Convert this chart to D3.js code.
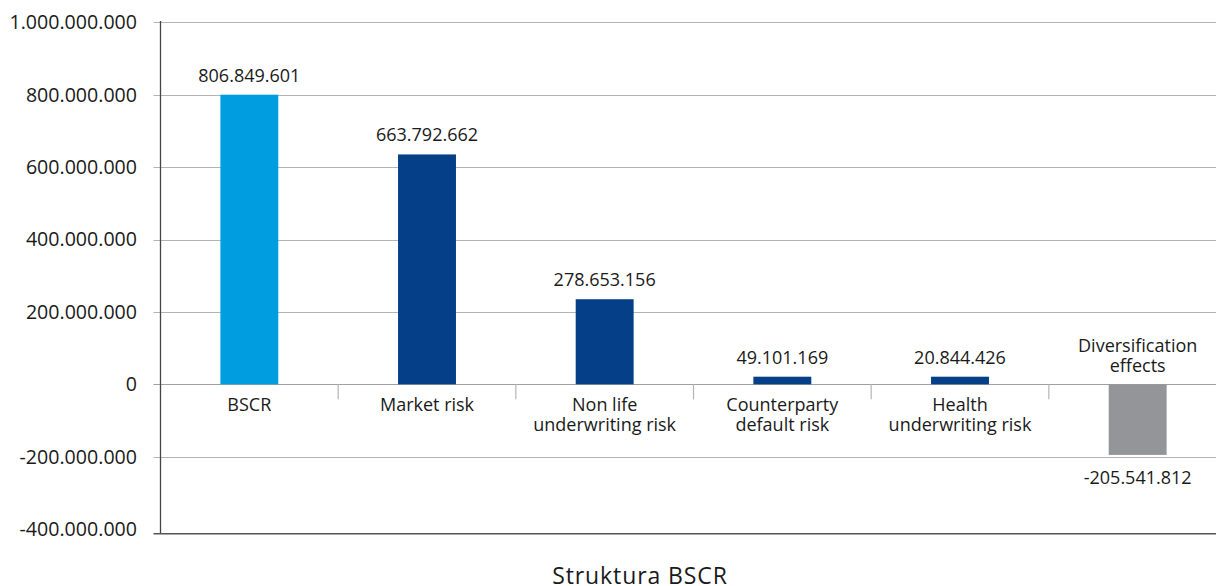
<!DOCTYPE html>
<html>
<head>
<meta charset="utf-8">
<script src="https://cdn.jsdelivr.net/npm/d3@7"></script>
<style>
  html, body { margin: 0; padding: 0; background: #fff; }
  svg { display: block; font-family: "Open Sans", "Noto Sans", sans-serif; }
</style>
</head>
<body>
<svg id="chart" width="1216" height="586"></svg>
<script>
// ---- data ----
const categories = [
  ["BSCR"],
  ["Market risk"],
  ["Non life", "underwriting risk"],
  ["Counterparty", "default risk"],
  ["Health", "underwriting risk"],
  ["Diversification", "effects"]
];
// bar heights as drawn in the picture
const barValues = [800000000, 635000000, 235000000, 21000000, 21000000, -195000000];
// data labels as printed
const labelValues = [806849601, 663792662, 278653156, 49101169, 20844426, -205541812];
const yTicks = [-400000000, -200000000, 0, 200000000, 400000000, 600000000, 800000000, 1000000000];
const barColors = ["#009ee0", "#053f87", "#053f87", "#053f87", "#053f87", "#939598"];
const title = "Struktura BSCR";

const fmt = v => d3.format(",")(v).replace(/,/g, ".").replace("−", "-");

const svg = d3.select("#chart");
const left = 160.5, right = 1226.5;
const y = d3.scaleLinear().domain([-400000000, 1000000000]).range([529.1, 22.3]);
const x = d3.scaleBand().domain(d3.range(categories.length)).range([left, right]).paddingInner(0.674).paddingOuter(0.337);
const band = d3.scaleBand().domain(d3.range(categories.length)).range([left, right]);
const bottomY = 533.7;

// gridlines
svg.append("g").selectAll("line").data(yTicks.filter(t => t !== -400000000)).join("line")
  .attr("x1", 153.5).attr("x2", 1216)
  .attr("y1", d => Math.round(y(d)) + 0.5).attr("y2", d => Math.round(y(d)) + 0.5)
  .attr("stroke", d => d === 0 ? "#a0a0a0" : "#b4b4b4").attr("stroke-width", 1.2);

// y tick labels
svg.append("g").selectAll("text").data(yTicks).join("text")
  .attr("x", 137).attr("y", d => y(d))
  .attr("dy", "0.35em").attr("text-anchor", "end")
  .attr("font-size", 19.6).attr("fill", "#1a1a1a")
  .text(d => fmt(d));

// bars
svg.append("g").selectAll("rect").data(barValues).join("rect")
  .attr("x", (d, i) => x(i)).attr("width", x.bandwidth())
  .attr("y", d => y(Math.max(0, d)))
  .attr("height", d => Math.abs(y(d) - y(0)))
  .attr("fill", (d, i) => barColors[i]);

// category separators below zero
svg.append("g").selectAll("line").data(d3.range(1, categories.length)).join("line")
  .attr("x1", d => band(d)).attr("x2", d => band(d))
  .attr("y1", y(0)).attr("y2", y(0) + 15)
  .attr("stroke", "#b4b4b4").attr("stroke-width", 1.2);

// left axis line
svg.append("line").attr("x1", left).attr("x2", left).attr("y1", 21).attr("y2", bottomY)
  .attr("stroke", "#444").attr("stroke-width", 1.3);
// bottom frame line
svg.append("line").attr("x1", 153.5).attr("x2", 1216).attr("y1", bottomY).attr("y2", bottomY)
  .attr("stroke", "#555").attr("stroke-width", 1.6);

// category labels
const catG = svg.append("g").selectAll("text").data(categories).join("text")
  .attr("text-anchor", "middle").attr("font-size", 18).attr("fill", "#1a1a1a")
  .attr("transform", (d, i) => {
    const cx = x(i) + x.bandwidth() / 2;
    const yy = barValues[i] < 0 ? y(0) - 32 : y(0) + 26.5;
    return `translate(${cx},${yy})`;
  });
catG.selectAll("tspan").data(d => d).join("tspan")
  .attr("x", 0).attr("dy", (d, j) => j === 0 ? 0 : 20).text(d => d);

// data labels
svg.append("g").selectAll("text").data(labelValues).join("text")
  .attr("text-anchor", "middle").attr("font-size", 18).attr("fill", "#1a1a1a")
  .attr("x", (d, i) => x(i) + x.bandwidth() / 2)
  .attr("y", (d, i) => barValues[i] < 0 ? y(barValues[i]) + 29 : y(barValues[i]) - 13)
  .text(d => fmt(d));

// title
svg.append("text").attr("x", 640).attr("y", 584).attr("text-anchor", "middle")
  .attr("font-size", 23).attr("letter-spacing", 0.9).attr("fill", "#1a1a1a").text(title);
</script>
</body>
</html>
